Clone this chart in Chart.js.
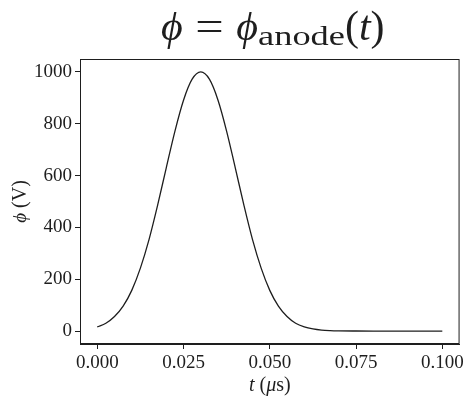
<!DOCTYPE html>
<html>
<head>
<meta charset="utf-8">
<script src="https://cdn.jsdelivr.net/npm/chart.js@4/dist/chart.umd.min.js"></script>
<style>
  html, body { margin: 0; padding: 0; background: #fff; }
  #wrap { width: 467px; height: 399px; }
</style>
</head>
<body>
<div id="wrap"><canvas id="phiChart"></canvas></div>
<script>
// anode potential pulse, t in microseconds, phi in volts
const timeUs = [0.0, 0.0025, 0.005, 0.0075, 0.01, 0.0125, 0.015, 0.0175, 0.02, 0.0225,
    0.025, 0.0275, 0.03, 0.0325, 0.035, 0.0375, 0.04, 0.0425, 0.045, 0.0475,
    0.05, 0.0525, 0.055, 0.0575, 0.06, 0.0625, 0.065, 0.0675, 0.07, 0.075,
    0.08, 0.085, 0.09, 0.095, 0.1];
const phiVolts = [16, 30, 56, 96, 157, 243, 353, 486, 630, 771,
    891, 972, 1000, 972, 891, 771, 630, 486, 353, 243,
    157, 96, 56, 30, 16, 8, 3.5, 1.5, 0.6, 0.1,
    0, 0, 0, 0, 0];

const xTicks = [0.0, 0.025, 0.05, 0.075, 0.1];
const yTicks = [0, 200, 400, 600, 800, 1000];

const SERIF = '"Liberation Serif", "DejaVu Serif", serif';
const INK = '#1e1e1e';
const PHI = '\u03D5';

// write a run of [text, font, dy, sx] pieces starting at x; sx stretches a piece sideways
function drawPieces(ctx, pieces, x, y) {
    pieces.forEach(([txt, font, dy, sx]) => {
        sx = sx || 1;
        ctx.font = font;
        ctx.save();
        ctx.translate(x, y + (dy || 0));
        ctx.scale(sx, 1);
        ctx.fillText(txt, 0, 0);
        ctx.restore();
        x += ctx.measureText(txt).width * sx;
    });
}

function piecesWidth(ctx, pieces) {
    return pieces.reduce((w, [txt, font, dy, sx]) => {
        ctx.font = font;
        return w + ctx.measureText(txt).width * (sx || 1);
    }, 0);
}

const labelsPlugin = {
    id: 'labels',
    afterDraw(chart) {
        const { ctx, chartArea: a } = chart;
        ctx.save();
        ctx.fillStyle = INK;
        ctx.textBaseline = 'alphabetic';
        ctx.textAlign = 'left';

        // frame on all four sides
        ctx.strokeStyle = INK;
        ctx.lineWidth = 1;
        ctx.strokeRect(a.left + 0.5, a.top + 0.5, a.right - a.left - 1, a.bottom - a.top - 1);

        // title
        const title = [
            [PHI, 'italic 40px ' + SERIF, 0, 1.05],
            [' = ', '42px ' + SERIF, 0, 1.2],
            [PHI, 'italic 40px ' + SERIF, 0, 1.05],
            ['anode', '28px ' + SERIF, 5, 1.3],
            ['(', '42px ' + SERIF],
            ['t', 'italic 42px ' + SERIF],
            [')', '42px ' + SERIF]
        ];
        const tw = piecesWidth(ctx, title);
        drawPieces(ctx, title, (a.left + a.right) / 2 - tw / 2 + 3, 40);

        // x axis label
        const xl = [
            ['t', 'italic 20px ' + SERIF],
            [' (', '20px ' + SERIF],
            ['\u03BC', 'italic 20px ' + SERIF],
            ['s)', '20px ' + SERIF]
        ];
        const xw = piecesWidth(ctx, xl);
        drawPieces(ctx, xl, (a.left + a.right) / 2 - xw / 2, 391);

        // y axis label, rotated
        const yl = [
            [PHI, 'italic 19px ' + SERIF],
            [' (V)', '20px ' + SERIF]
        ];
        const yw = piecesWidth(ctx, yl);
        ctx.translate(26, (a.top + a.bottom) / 2);
        ctx.rotate(-Math.PI / 2);
        drawPieces(ctx, yl, -yw / 2, 0);
        ctx.restore();
    }
};

const points = timeUs.map((t, i) => ({ x: t, y: phiVolts[i] }));

new Chart(document.getElementById('phiChart').getContext('2d'), {
    type: 'line',
    data: {
        datasets: [{
            data: points,
            borderColor: INK,
            borderWidth: 1.3,
            pointRadius: 0,
            fill: false,
            cubicInterpolationMode: 'monotone'
        }]
    },
    options: {
        responsive: true,
        maintainAspectRatio: false,
        animation: false,
        layout: { padding: { top: 59, right: 7, left: 0, bottom: 0 } },
        plugins: {
            legend: { display: false },
            tooltip: { enabled: false }
        },
        scales: {
            x: {
                type: 'linear',
                min: -0.005,
                max: 0.105,
                afterBuildTicks: scale => { scale.ticks = xTicks.map(v => ({ value: v })); },
                afterFit: scale => { scale.height = 55; },
                grid: { drawOnChartArea: false, drawTicks: true, tickLength: 5, color: INK },
                border: { display: true, color: INK },
                ticks: {
                    color: INK,
                    padding: 3,
                    maxRotation: 0,
                    font: { family: SERIF, size: 19 },
                    callback: v => v.toFixed(3)
                }
            },
            y: {
                type: 'linear',
                min: -50,
                max: 1050,
                afterBuildTicks: scale => { scale.ticks = yTicks.map(v => ({ value: v })); },
                afterFit: scale => { scale.width = 80; },
                grid: { drawOnChartArea: false, drawTicks: true, tickLength: 5, color: INK },
                border: { display: true, color: INK },
                ticks: {
                    color: INK,
                    padding: 3,
                    font: { family: SERIF, size: 19 },
                    callback: v => String(v)
                }
            }
        }
    },
    plugins: [labelsPlugin]
});
</script>
</body>
</html>
